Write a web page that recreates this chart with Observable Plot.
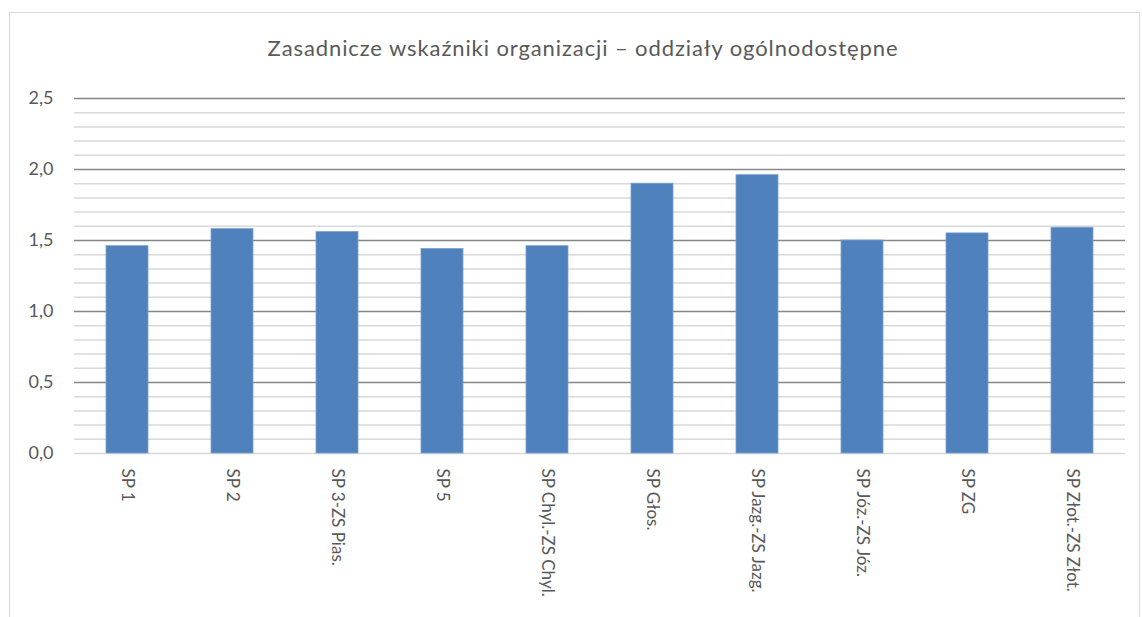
<!DOCTYPE html>
<html>
<head>
<meta charset="utf-8">
<script src="https://cdn.jsdelivr.net/npm/d3@7"></script>
<script src="https://cdn.jsdelivr.net/npm/@observablehq/plot@0.6"></script>
<style>
  html, body { margin: 0; padding: 0; background: #fff; }
  #wrap { position: relative; width: 1142px; height: 617px; overflow: hidden; font-family: Lato, "Open Sans", sans-serif; }
  #frame { position: absolute; left: 9px; top: 12px; width: 1131px; height: 640px; border: 1.5px solid #d9d9d9; box-sizing: border-box; }
  #title { position: absolute; left: 12px; width: 1142px; top: 34px; text-align: center; font-size: 22px; letter-spacing: 0.9px; color: #595959; white-space: nowrap; }
  #chart { position: absolute; left: 0; top: 0; }
</style>
</head>
<body>
<div id="wrap">
  <div id="frame"></div>
  <div id="title">Zasadnicze wskaźniki organizacji – oddziały ogólnodostępne</div>
  <div id="chart"></div>
</div>
<script>
const categories = ["SP 1", "SP 2", "SP 3-ZS Pias.", "SP 5", "SP Chyl.-ZS Chyl.", "SP Głos.", "SP Jazg.-ZS Jazg.", "SP Józ.-ZS Józ.", "SP ZG", "SP Złot.-ZS Złot."];
const values = [1.46, 1.58, 1.56, 1.44, 1.46, 1.90, 1.96, 1.50, 1.55, 1.59];
const majorTicks = [0, 0.5, 1.0, 1.5, 2.0, 2.5];
const minorTicks = [0.1, 0.2, 0.3, 0.4, 0.6, 0.7, 0.8, 0.9, 1.1, 1.2, 1.3, 1.4, 1.6, 1.7, 1.8, 1.9, 2.1, 2.2, 2.3, 2.4];

const data = categories.map((c, i) => ({ name: c, value: values[i] }));
const fmt = d => d.toFixed(1).replace(".", ",");

const chart = Plot.plot({
  width: 1142,
  height: 617,
  marginLeft: 74,
  marginRight: 17,
  marginTop: 98,
  marginBottom: 164,
  style: { fontFamily: "Lato, 'Open Sans', sans-serif", fontSize: "16px", color: "#595959", background: "transparent", overflow: "visible" },
  x: { domain: categories, paddingInner: 0.6, paddingOuter: 0.3, label: null },
  y: { domain: [0, 2.5], label: null },
  marks: [
    Plot.ruleY(minorTicks, { stroke: "#d9d9d9", strokeWidth: 1.5 }),
    Plot.ruleY([0], { stroke: "#d9d9d9", strokeWidth: 1.5 }),
    Plot.ruleY(majorTicks.filter(d => d > 0), { stroke: "#868686", strokeWidth: 1.5 }),
    Plot.barY(data, { x: "name", y: "value", fill: "#4f81bd", stroke: "#7aa0cf", strokeWidth: 0.8 }),
    Plot.ruleX([0], { y1: 0, y2: 2.5, frameAnchor: "left", stroke: "#868686", strokeWidth: 1.5 }),
    Plot.axisY({ ticks: majorTicks, tickFormat: fmt, tickSize: 0, tickPadding: 21, fontSize: 18, fill: "#595959", label: null, style: { letterSpacing: "1px" } }),
    Plot.axisX({ tickRotate: 90, tickSize: 0, tickPadding: 15, fontSize: 17, fill: "#595959", label: null, style: { letterSpacing: "0.5px" } })
  ]
});
document.getElementById("chart").appendChild(chart);
</script>
</body>
</html>
